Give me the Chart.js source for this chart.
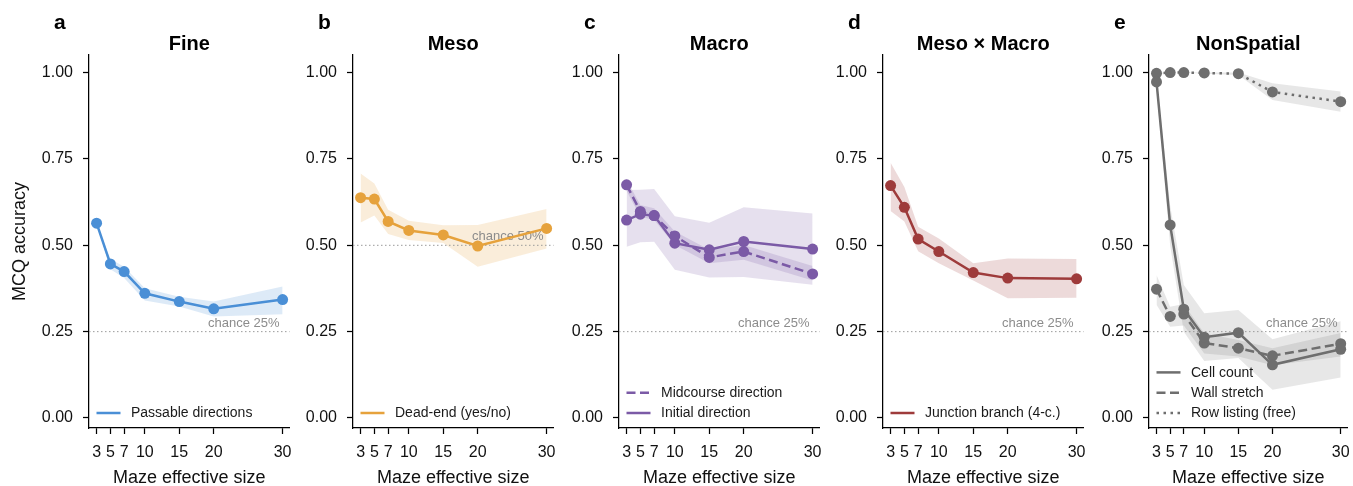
<!DOCTYPE html>
<html><head><meta charset="utf-8">
<script src="https://cdn.jsdelivr.net/npm/chart.js@4.4.1/dist/chart.umd.min.js"></script>
<style>
html,body{margin:0;padding:0;background:#fff;overflow:hidden;width:1353px;height:486px;position:relative;}
canvas{position:absolute;top:0;}
</style></head><body>
<canvas id="c0" width="296" height="486" style="left:0px"></canvas>
<canvas id="c1" width="296" height="486" style="left:264px"></canvas>
<canvas id="c2" width="296" height="486" style="left:530px"></canvas>
<canvas id="c3" width="296" height="486" style="left:794px"></canvas>
<canvas id="c4" width="293" height="486" style="left:1060px"></canvas>
<script>
// ---------- data ----------
const sizes = [3, 5, 7, 10, 15, 20, 30];
const xTicks = [3, 5, 7, 10, 15, 20, 30];
const yTicks = [0, 0.25, 0.5, 0.75, 1.0];

const fineMean = [0.564, 0.446, 0.424, 0.361, 0.337, 0.316, 0.343];
const fineLo   = [0.564, 0.431, 0.405, 0.340, 0.323, 0.294, 0.300];
const fineHi   = [0.564, 0.460, 0.438, 0.376, 0.351, 0.337, 0.381];

const mesoMean = [0.638, 0.634, 0.569, 0.543, 0.530, 0.498, 0.549];
const mesoLo   = [0.566, 0.586, 0.533, 0.515, 0.507, 0.438, 0.491];
const mesoHi   = [0.708, 0.679, 0.603, 0.571, 0.558, 0.559, 0.605];

const midMean  = [0.675, 0.598, 0.586, 0.527, 0.465, 0.482, 0.417];
const midLo    = [0.657, 0.583, 0.573, 0.501, 0.448, 0.458, 0.398];
const midHi    = [0.690, 0.617, 0.607, 0.540, 0.487, 0.501, 0.440];

const initMean = [0.573, 0.590, 0.586, 0.506, 0.487, 0.511, 0.489];
const initLo   = [0.496, 0.509, 0.510, 0.429, 0.407, 0.408, 0.386];
const initHi   = [0.660, 0.661, 0.663, 0.584, 0.565, 0.610, 0.592];

const juncMean = [0.673, 0.610, 0.518, 0.482, 0.421, 0.405, 0.403];
const juncLo   = [0.599, 0.569, 0.483, 0.448, 0.398, 0.347, 0.348];
const juncHi   = [0.739, 0.669, 0.554, 0.520, 0.448, 0.462, 0.460];

const cellMean = [0.973, 0.559, 0.315, 0.234, 0.247, 0.154, 0.199];
const cellLo   = [0.955, 0.500, 0.250, 0.165, 0.174, 0.082, 0.117];
const cellHi   = [0.990, 0.615, 0.385, 0.303, 0.313, 0.228, 0.280];

const wallMean = [0.373, 0.294, 0.301, 0.217, 0.202, 0.180, 0.215];
const wallLo   = [0.328, 0.264, 0.268, 0.187, 0.178, 0.153, 0.178];
const wallHi   = [0.414, 0.322, 0.330, 0.245, 0.226, 0.202, 0.246];

const rowMean  = [0.998, 1.000, 1.000, 0.999, 0.997, 0.944, 0.916];
const rowLo    = [0.995, 1.000, 1.000, 0.997, 0.993, 0.921, 0.887];
const rowHi    = [1.000, 1.000, 1.000, 1.000, 1.000, 0.969, 0.945];

const panelLetters = ['a', 'b', 'c', 'd', 'e'];
const panelTitles = ['Fine', 'Meso', 'Macro', 'Meso \u00d7 Macro', 'NonSpatial'];
const chanceLevels = [0.25, 0.5, 0.25, 0.25, 0.25];
const chanceLabels = ['chance 25%', 'chance 50%', 'chance 25%', 'chance 25%', 'chance 25%'];

// ---------- styles ----------
const FONT = "'Liberation Sans', Arial, Helvetica, sans-serif";
const C = {
  blue:  ['#4a8fd6', 'rgba(74,143,214,0.19)'],
  orange:['#e6a23c', 'rgba(230,162,60,0.19)'],
  purple:['#7b5aa6', 'rgba(123,90,166,0.19)'],
  red:   ['#9e3b3b', 'rgba(158,59,59,0.19)'],
  gray:  ['#6e6e6e', 'rgba(110,110,110,0.17)']
};
const SOLID = [], DASH = [9, 4.5], DOT = [2.5, 4.5];

const panels = [
  [{label:'Passable directions', mean:fineMean, lo:fineLo, hi:fineHi, col:C.blue, dash:SOLID}],
  [{label:'Dead-end (yes/no)', mean:mesoMean, lo:mesoLo, hi:mesoHi, col:C.orange, dash:SOLID}],
  [{label:'Midcourse direction', mean:midMean, lo:midLo, hi:midHi, col:C.purple, dash:DASH},
   {label:'Initial direction', mean:initMean, lo:initLo, hi:initHi, col:C.purple, dash:SOLID}],
  [{label:'Junction branch (4-c.)', mean:juncMean, lo:juncLo, hi:juncHi, col:C.red, dash:SOLID}],
  [{label:'Cell count', mean:cellMean, lo:cellLo, hi:cellHi, col:C.gray, dash:SOLID},
   {label:'Wall stretch', mean:wallMean, lo:wallLo, hi:wallHi, col:C.gray, dash:DASH},
   {label:'Row listing (free)', mean:rowMean, lo:rowLo, hi:rowHi, col:C.gray, dash:DOT}]
];

const pts = arr => sizes.map((s, i) => ({x: s, y: arr[i]}));

const deco = {
  id: 'deco',
  beforeDatasetsDraw(chart) {
    const o = chart.options.plugins.deco;
    const {ctx, chartArea: a} = chart;
    const yy = chart.scales.y.getPixelForValue(o.chance);
    ctx.save();
    ctx.strokeStyle = '#9a9a9a'; ctx.lineWidth = 1; ctx.setLineDash([1.5, 2.5]);
    ctx.beginPath(); ctx.moveTo(a.left, yy); ctx.lineTo(a.right, yy); ctx.stroke();
    ctx.setLineDash([]);
    ctx.fillStyle = '#8c8c8c'; ctx.font = '13px ' + FONT;
    ctx.textAlign = 'right'; ctx.textBaseline = 'alphabetic';
    ctx.fillText(o.chanceText, a.right - 10, yy - 5);
    ctx.restore();
  },
  afterDraw(chart) {
    const o = chart.options.plugins.deco;
    const {ctx, chartArea: a} = chart;
    ctx.save();
    ctx.fillStyle = '#000';
    ctx.font = 'bold 20px ' + FONT; ctx.textAlign = 'center'; ctx.textBaseline = 'alphabetic';
    ctx.fillText(o.title, (a.left + a.right) / 2, 50);
    ctx.font = 'bold 21px ' + FONT; ctx.textAlign = 'left';
    ctx.fillText(o.letter, a.left - 35, 28.5);
    // legend
    const items = chart.data.datasets.filter(d => d.legend);
    const n = items.length;
    items.forEach((d, i) => {
      const y = a.bottom - 15 - (n - 1 - i) * 20.3;
      ctx.strokeStyle = d.borderColor; ctx.lineWidth = 2.5; ctx.setLineDash(d.borderDash);
      ctx.beginPath(); ctx.moveTo(a.left + 7.5, y); ctx.lineTo(a.left + 31.5, y); ctx.stroke();
      ctx.setLineDash([]);
      ctx.fillStyle = '#1a1a1a'; ctx.font = '14px ' + FONT; ctx.textAlign = 'left'; ctx.textBaseline = 'middle';
      ctx.fillText(d.label, a.left + 42, y + 0.5);
    });
    ctx.restore();
  }
};

panels.forEach((series, pi) => {
  const datasets = [];
  series.forEach(s => {
    datasets.push({label: '', data: pts(s.lo), borderWidth: 0, pointRadius: 0, fill: false, order: 2, borderColor: 'rgba(0,0,0,0)'});
    datasets.push({label: '', data: pts(s.hi), borderWidth: 0, pointRadius: 0, fill: '-1', backgroundColor: s.col[1], order: 2, borderColor: 'rgba(0,0,0,0)'});
  });
  series.forEach(s => {
    datasets.push({label: s.label, legend: true, data: pts(s.mean), borderColor: s.col[0], backgroundColor: s.col[0],
      borderWidth: 2.5, borderDash: s.dash, borderCapStyle: 'butt', pointRadius: 5.5, pointHoverRadius: 5.5,
      pointBorderWidth: 0, fill: false, order: 0, tension: 0});
  });
  new Chart(document.getElementById('c' + pi), {
    type: 'line',
    data: {datasets},
    plugins: [deco],
    options: {
      responsive: false, animation: false, devicePixelRatio: 1,
      layout: {padding: {left: 0, right: (pi === 4 ? 3.5 : 6.5), top: 55, bottom: 0}},
      plugins: {
        legend: {display: false}, tooltip: {enabled: false}, title: {display: false},
        filler: {drawTime: 'beforeDatasetsDraw'},
        deco: {chance: chanceLevels[pi], chanceText: chanceLabels[pi], title: panelTitles[pi], letter: panelLetters[pi]}
      },
      scales: {
        x: {
          type: 'linear', min: 1.9, max: 31,
          afterBuildTicks: sc => { sc.ticks = xTicks.map(v => ({value: v})); },
          afterFit: sc => { sc.height = 58; sc.paddingLeft = 0; sc.paddingRight = 0; },
          border: {display: true, color: '#000', width: 1.25},
          grid: {display: true, drawOnChartArea: false, drawTicks: true, tickLength: 6, color: '#000', tickWidth: 1.25},
          ticks: {autoSkip: false, maxRotation: 0, padding: 9, color: '#111', font: {family: FONT, size: 16},
            callback: v => String(v)},
          title: {display: true, text: 'Maze effective size', color: '#111', font: {family: FONT, size: 18}, padding: {top: 0, bottom: -3}}
        },
        y: {
          type: 'linear', min: -0.029, max: 1.051,
          afterBuildTicks: sc => { sc.ticks = yTicks.map(v => ({value: v})); },
          afterFit: sc => { sc.width = 89; sc.paddingTop = 0; sc.paddingBottom = 0; },
          border: {display: true, color: '#000', width: 1.25},
          grid: {display: true, drawOnChartArea: false, drawTicks: true, tickLength: 6, color: '#000', tickWidth: 1.25},
          ticks: {padding: 10, color: '#111', font: {family: FONT, size: 16}, callback: v => Number(v).toFixed(2)},
          title: {display: pi === 0, text: 'MCQ accuracy', color: '#111', font: {family: FONT, size: 18}, padding: {top: 9, bottom: 0}}
        }
      }
    }
  });
});
</script>
</body></html>
